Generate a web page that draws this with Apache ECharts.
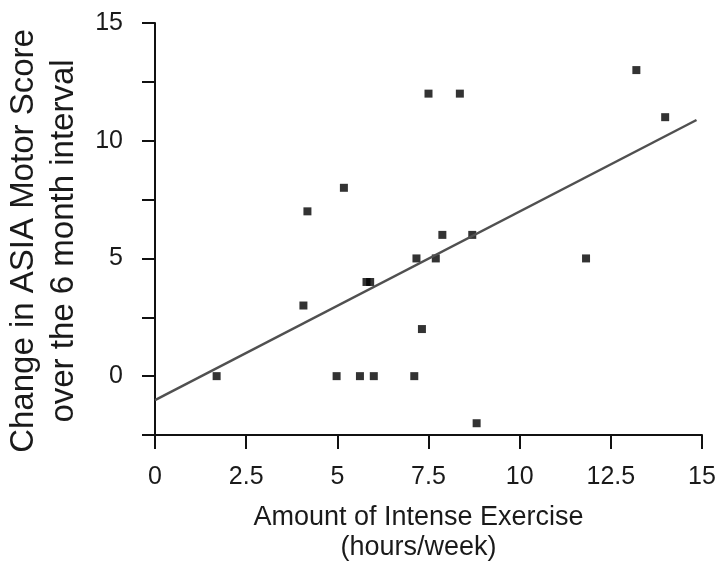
<!DOCTYPE html>
<html>
<head>
<meta charset="utf-8">
<script src="https://cdn.jsdelivr.net/npm/echarts@6/dist/echarts.min.js"></script>
<style>
html,body{margin:0;padding:0;background:#ffffff;}
#chart{width:717px;height:563px;}
</style>
</head>
<body>
<div id="chart"></div>
<script>
// Scatter points: [hours/week, change in ASIA motor score]
var exerciseHours = [1.69, 4.07, 4.18, 4.98, 5.18, 5.62, 5.80, 5.90, 6.00, 7.11, 7.17, 7.32, 7.50, 7.70, 7.88, 8.36, 8.70, 8.82, 11.82, 13.20, 13.99];
var motorChange   = [0,    3,    7,    0,    8,    0,    4,    4,    0,    0,    5,    2,    12,   5,    6,    12,   6,    -2,   5,     13,    11];
// Fitted line endpoints
var fitX = [0, 14.85];
var fitY = [-1.02, 10.88];
var xTicks = ['0', '2.5', '5', '7.5', '10', '12.5', '15'];
var yTicks = ['0', '5', '10', '15'];

var points = exerciseHours.map(function (x, i) { return [x, motorChange[i]]; });
var fitLine = fitX.map(function (x, i) { return [x, fitY[i]]; });

var FONT = 'Liberation Sans';
var TXT = '#1a1a1a';

var chart = echarts.init(document.getElementById('chart'), null, {renderer: 'canvas'});
chart.setOption({
  backgroundColor: '#ffffff',
  animation: false,
  grid: {left: 155, right: 15, top: 23, bottom: 128, containLabel: false, outerBoundsMode: 'none'},
  xAxis: {
    type: 'value', min: 0, max: 15, interval: 2.5,
    name: 'Amount of Intense Exercise\n(hours/week)',
    nameLocation: 'middle', nameGap: 68,
    nameTextStyle: {fontFamily: FONT, fontSize: 27, color: TXT, lineHeight: 30, padding: [0, 20, 0, 0]},
    axisLine: {show: true, onZero: false, lineStyle: {color: '#111', width: 2}},
    axisTick: {show: true, inside: false, length: 14, lineStyle: {color: '#111', width: 2}},
    axisLabel: {
      fontFamily: FONT, fontSize: 25, color: TXT, margin: 30,
      formatter: function (v) { var s = String(v); return xTicks.indexOf(s) >= 0 ? s : ''; }
    },
    splitLine: {show: false}
  },
  yAxis: {
    type: 'value', min: -2.5, max: 15, interval: 2.5,
    name: 'Change in ASIA Motor Score\nover the 6 month interval',
    nameLocation: 'middle', nameGap: 58, nameRotate: 90,
    nameTextStyle: {fontFamily: FONT, fontSize: 33, color: TXT, lineHeight: 40, padding: [0, 24, 0, 0]},
    axisLine: {show: true, onZero: false, lineStyle: {color: '#111', width: 2}},
    axisTick: {show: true, inside: false, length: 13, lineStyle: {color: '#111', width: 2}},
    axisLabel: {
      fontFamily: FONT, fontSize: 25, color: TXT, margin: 32,
      formatter: function (v) { var s = String(v); return yTicks.indexOf(s) >= 0 ? s : ''; }
    },
    splitLine: {show: false}
  },
  series: [
    {
      type: 'scatter', data: points, symbol: 'rect', symbolSize: 8,
      itemStyle: {color: '#000000'}, z: 2
    },
    {
      type: 'line', data: fitLine, symbol: 'none', z: 3,
      lineStyle: {color: '#505050', width: 2.5}
    }
  ]
});
</script>
</body>
</html>
